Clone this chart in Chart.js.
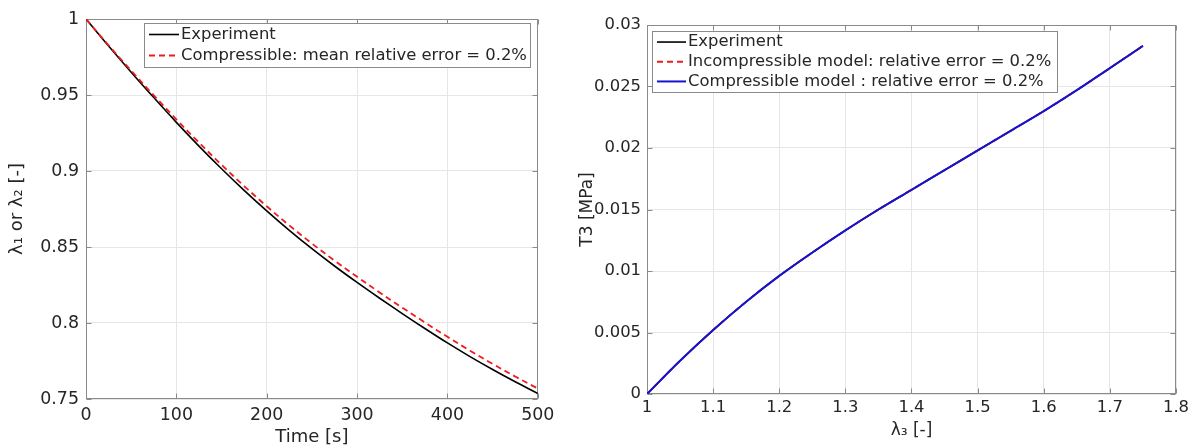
<!DOCTYPE html>
<html>
<head>
<meta charset="utf-8">
<script src="https://cdn.jsdelivr.net/npm/chart.js@4"></script>
<style>
  html, body { margin: 0; padding: 0; background: #fff; }
  #wrap { position: relative; width: 1199px; height: 448px; overflow: hidden; }
  canvas { position: absolute; top: 0; }
  #leftChart { left: 0; width: 560px; height: 448px; }
  #rightChart { left: 560px; width: 639px; height: 448px; }
</style>
</head>
<body>
<div id="wrap">
  <canvas id="leftChart" width="560" height="448"></canvas>
  <canvas id="rightChart" width="639" height="448"></canvas>
</div>
<script>
// left panel: stretch ratio vs time
const timeS = [0, 25, 50, 75, 100, 125, 150, 175, 200, 225, 250, 275, 300, 325, 350, 375, 400, 425, 450, 475, 500];
const lambdaExperiment = [1.000, 0.9822, 0.9650, 0.9483, 0.9320, 0.9164, 0.9015, 0.8873, 0.8738, 0.8610, 0.8489,
  0.8375, 0.8267, 0.8163, 0.8062, 0.7964, 0.7869, 0.7779, 0.7694, 0.7613, 0.7536];
const lambdaCompressible = [1.000, 0.9827, 0.9660, 0.9498, 0.9340, 0.9187, 0.9041, 0.8901, 0.8768, 0.8642, 0.8523,
  0.8411, 0.8304, 0.8201, 0.8101, 0.8004, 0.7909, 0.7818, 0.7731, 0.7648, 0.7569];
const timeTicks = [0, 100, 200, 300, 400, 500];
const lambdaTicks = [0.75, 0.8, 0.85, 0.9, 0.95, 1];

// right panel: stress vs lambda3
const lambda3 = [1.00, 1.05, 1.10, 1.15, 1.20, 1.25, 1.30, 1.35, 1.40, 1.45, 1.50, 1.55, 1.60, 1.65, 1.70, 1.75];
const t3Experiment = [0, 0.0027, 0.0052, 0.0075, 0.0096, 0.0115, 0.0133, 0.0150, 0.0166, 0.0182, 0.0198, 0.0214,
  0.0230, 0.0247, 0.0265, 0.0283];
const t3Incompressible = [0, 0.0027, 0.0052, 0.0075, 0.0096, 0.0115, 0.0133, 0.0150, 0.0166, 0.0182, 0.0198, 0.0214,
  0.0230, 0.0247, 0.0265, 0.0283];
const t3Compressible = [0, 0.0027, 0.0052, 0.0075, 0.0096, 0.0115, 0.0133, 0.0150, 0.0166, 0.0182, 0.0198, 0.0214,
  0.0230, 0.0247, 0.0265, 0.0283];
const lambda3Ticks = [1, 1.1, 1.2, 1.3, 1.4, 1.5, 1.6, 1.7, 1.8];
const t3Ticks = [0, 0.005, 0.01, 0.015, 0.02, 0.025, 0.03];

const FONT = "'DejaVu Sans', sans-serif";
const TEXT = '#262626';
const GRID = '#e6e6e6';
const AXIS = '#8a8a8a';

function points(xs, ys) {
  return xs.map((x, i) => ({ x: x, y: ys[i] }));
}

// matlab style box + inward ticks
const boxPlugin = {
  id: 'boxPlugin',
  beforeDatasetsDraw(chart) {
    const { ctx, chartArea: a, scales } = chart;
    const l = Math.round(a.left) + 0.5, r = Math.round(a.right) - 0.5;
    const t = Math.round(a.top) + 0.5, b = Math.round(a.bottom) - 0.5;
    ctx.save();
    ctx.strokeStyle = AXIS;
    ctx.lineWidth = 1;
    ctx.strokeRect(l, t, r - l, b - t);
    ctx.beginPath();
    scales.x.ticks.forEach(tk => {
      const px = Math.round(scales.x.getPixelForValue(tk.value)) + 0.5;
      ctx.moveTo(px, b); ctx.lineTo(px, b - 5);
      ctx.moveTo(px, t); ctx.lineTo(px, t + 5);
    });
    scales.y.ticks.forEach(tk => {
      const py = Math.round(scales.y.getPixelForValue(tk.value)) + 0.5;
      ctx.moveTo(l, py); ctx.lineTo(l + 5, py);
      ctx.moveTo(r, py); ctx.lineTo(r - 5, py);
    });
    ctx.stroke();
    ctx.restore();
  }
};

// legend drawn inside the axes
const innerLegend = {
  id: 'innerLegend',
  afterDatasetsDraw(chart, args, o) {
    const { ctx, chartArea: a } = chart;
    const sets = chart.data.datasets;
    ctx.save();
    ctx.font = o.fontSize + 'px ' + FONT;
    const textW = Math.max(...sets.map(d => ctx.measureText(d.label).width));
    const w = o.textX + textW + o.padRight;
    const h = sets.length * o.rowH + o.padV * 2;
    const x = Math.round(o.align === 'right' ? a.right - o.dx - w : a.left + o.dx);
    const y = Math.round(a.top + o.dy);
    ctx.fillStyle = '#fff';
    ctx.fillRect(x, y, w, h);
    ctx.strokeStyle = AXIS;
    ctx.lineWidth = 1;
    ctx.strokeRect(x + 0.5, y + 0.5, Math.round(w), Math.round(h));
    sets.forEach((d, i) => {
      const cy = y + o.padV + o.rowH * (i + 0.5);
      ctx.beginPath();
      ctx.setLineDash(d.borderDash || []);
      ctx.strokeStyle = d.borderColor;
      ctx.lineWidth = d.borderWidth;
      ctx.moveTo(x + o.lineX0, cy);
      ctx.lineTo(x + o.lineX1, cy);
      ctx.stroke();
      ctx.setLineDash([]);
      ctx.fillStyle = TEXT;
      ctx.textBaseline = 'middle';
      ctx.fillText(d.label, x + o.textX, cy);
    });
    ctx.restore();
  }
};

const leftChart = new Chart(document.getElementById('leftChart'), {
  type: 'line',
  data: {
    datasets: [{
      label: 'Experiment',
      data: points(timeS, lambdaExperiment),
      borderColor: '#000000',
      borderWidth: 1.6,
      order: 2
    }, {
      label: 'Compressible: mean relative error = 0.2%',
      data: points(timeS, lambdaCompressible),
      borderColor: '#ee1c1c',
      borderWidth: 1.8,
      borderDash: [6, 4],
      order: 1
    }]
  },
  options: {
    responsive: false,
    animation: false,
    layout: { padding: { left: 0, top: 19, right: 21, bottom: 0 } },
    elements: { point: { radius: 0 }, line: { tension: 0.35 } },
    scales: {
      x: {
        type: 'linear', min: 0, max: 500,
        afterBuildTicks: s => { s.ticks = timeTicks.map(v => ({ value: v })); },
        afterFit: s => { s.height = 49; },
        grid: { color: GRID, drawTicks: false },
        border: { display: false },
        ticks: { padding: 5.6, color: TEXT, font: { family: FONT, size: 17.4 }, maxRotation: 0, autoSkip: false, callback: v => String(v) },
        title: { display: true, text: 'Time [s]', color: TEXT, font: { family: FONT, size: 18 }, padding: { top: 0, bottom: 0.2 } }
      },
      y: {
        type: 'linear', min: 0.75, max: 1,
        afterBuildTicks: s => { s.ticks = lambdaTicks.map(v => ({ value: v })); },
        afterFit: s => { s.width = 86; },
        grid: { color: GRID, drawTicks: false },
        border: { display: false },
        ticks: { padding: 7, color: TEXT, font: { family: FONT, size: 17.4 }, autoSkip: false, callback: v => String(v) },
        title: { display: true, text: 'λ₁ or λ₂ [-]', color: TEXT, font: { family: FONT, size: 18 }, padding: { top: 6.2, bottom: 0 } }
      }
    },
    plugins: {
      legend: { display: false },
      tooltip: { enabled: false },
      innerLegend: { align: 'right', dx: 8, dy: 4, rowH: 21, padV: 1, lineX0: 5, lineX1: 35, textX: 37, padRight: 3, fontSize: 16.4 }
    }
  },
  plugins: [boxPlugin, innerLegend]
});

const rightChart = new Chart(document.getElementById('rightChart'), {
  type: 'line',
  data: {
    datasets: [{
      label: 'Experiment',
      data: points(lambda3, t3Experiment),
      borderColor: '#000000',
      borderWidth: 1.6,
      order: 3
    }, {
      label: 'Incompressible model: relative error = 0.2%',
      data: points(lambda3, t3Incompressible),
      borderColor: '#ee1c1c',
      borderWidth: 1.8,
      borderDash: [6, 4],
      order: 2
    }, {
      label: 'Compressible model : relative error = 0.2%',
      data: points(lambda3, t3Compressible),
      borderColor: '#1414d2',
      borderWidth: 2,
      order: 1
    }]
  },
  options: {
    responsive: false,
    animation: false,
    layout: { padding: { left: 0, top: 25, right: 23, bottom: 0 } },
    elements: { point: { radius: 0 }, line: { tension: 0.35 } },
    scales: {
      x: {
        type: 'linear', min: 1, max: 1.8,
        afterBuildTicks: s => { s.ticks = lambda3Ticks.map(v => ({ value: v })); },
        afterFit: s => { s.height = 54; },
        grid: { color: GRID, drawTicks: false },
        border: { display: false },
        ticks: { padding: 4.2, color: TEXT, font: { family: FONT, size: 16.4 }, maxRotation: 0, autoSkip: false, callback: v => String(v) },
        title: { display: true, text: 'λ₃ [-]', color: TEXT, font: { family: FONT, size: 17 }, padding: { top: 0, bottom: 6.8 } }
      },
      y: {
        type: 'linear', min: 0, max: 0.03,
        afterBuildTicks: s => { s.ticks = t3Ticks.map(v => ({ value: v })); },
        afterFit: s => { s.width = 87; },
        grid: { color: GRID, drawTicks: false },
        border: { display: false },
        ticks: { padding: 6, color: TEXT, font: { family: FONT, size: 16.4 }, autoSkip: false, callback: v => String(v) },
        title: { display: true, text: 'T3 [MPa]', color: TEXT, font: { family: FONT, size: 17 }, padding: { top: 17.8, bottom: 0 } }
      }
    },
    plugins: {
      legend: { display: false },
      tooltip: { enabled: false },
      innerLegend: { align: 'left', dx: 5, dy: 6, rowH: 19.7, padV: 1.2, lineX0: 5, lineX1: 34, textX: 36, padRight: 6, fontSize: 16.4 }
    }
  },
  plugins: [boxPlugin, innerLegend]
});
</script>
</body>
</html>
